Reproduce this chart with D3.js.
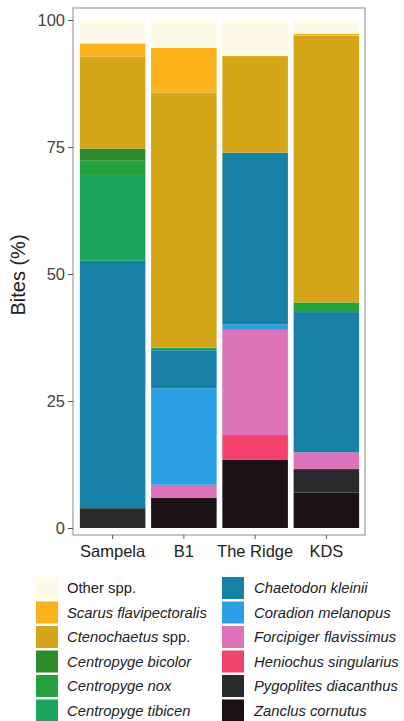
<html>
	<head>
		<meta content="text/html;charset=utf-8" http-equiv="Content-Type">
		<script src="https://d3js.org/d3.v7.min.js"></script>
		<style>
			body { margin: 0; background: white; }
			svg { display: block; font-family: "Liberation Sans", Arial, sans-serif; }
		</style>
	</head>
	<body>
		<svg id="chart"></svg>
		<script>

			// sites along the x axis
			var sites = ["Sampela", "B1", "The Ridge", "KDS"];

			// bites (%) per species, one value per site, stacked bottom to top
			var zanclus     = [0.0, 5.9, 13.4, 7.0];
			var pygoplites  = [3.9, 0.0, 0.0, 4.6];
			var heniochus   = [0.0, 0.0, 4.9, 0.0];
			var forcipiger  = [0.0, 2.6, 20.7, 3.3];
			var coradion    = [0.0, 19.0, 1.1, 0.0];
			var chaetodon   = [48.7, 7.5, 33.8, 27.6];
			var tibicen     = [16.9, 0.5, 0.0, 0.0];
			var nox         = [2.9, 0.0, 0.0, 1.9];
			var bicolor     = [2.3, 0.0, 0.0, 0.0];
			var ctenochaetus= [18.1, 50.2, 19.0, 52.5];
			var scarus      = [2.6, 8.8, 0.0, 0.4];
			var other       = [4.6, 5.5, 7.1, 2.7];

			var yTicks = [0, 25, 50, 75, 100];

			// series in stacking order (bottom first)
			var series = [
				{ name: "Zanclus cornutus", values: zanclus, color: "#1b1117" },
				{ name: "Pygoplites diacanthus", values: pygoplites, color: "#2a2a2d" },
				{ name: "Heniochus singularius", values: heniochus, color: "#f2426c" },
				{ name: "Forcipiger flavissimus", values: forcipiger, color: "#dd72b9" },
				{ name: "Coradion melanopus", values: coradion, color: "#2b9fe6" },
				{ name: "Chaetodon kleinii", values: chaetodon, color: "#1781a8" },
				{ name: "Centropyge tibicen", values: tibicen, color: "#1ca65b" },
				{ name: "Centropyge nox", values: nox, color: "#25a03a" },
				{ name: "Centropyge bicolor", values: bicolor, color: "#2d8b2b" },
				{ name: "Ctenochaetus spp.", values: ctenochaetus, color: "#d5a617" },
				{ name: "Scarus flavipectoralis", values: scarus, color: "#fcb21b" },
				{ name: "Other spp.", values: other, color: "#fdfbe7" }
			];

			// legend columns, top to bottom
			var legendLeft = ["Other spp.", "Scarus flavipectoralis", "Ctenochaetus spp.",
				"Centropyge bicolor", "Centropyge nox", "Centropyge tibicen"];
			var legendRight = ["Chaetodon kleinii", "Coradion melanopus", "Forcipiger flavissimus",
				"Heniochus singularius", "Pygoplites diacanthus", "Zanclus cornutus"];

			var width = 404, height = 721;
			var svg = d3.select("#chart").attr("width", width).attr("height", height);

			var x = d3.scaleBand().domain(sites).range([77, 362]).paddingInner(0.08).paddingOuter(0.04);
			var y = d3.scaleLinear().domain([0, 100]).range([528, 20]);

			// build rows for d3.stack
			var rows = sites.map(function(s, i) {
				var r = { site: s };
				series.forEach(function(d) { r[d.name] = d.values[i]; });
				return r;
			});
			var stacked = d3.stack().keys(series.map(function(d) { return d.name; }))(rows);
			var colorOf = {};
			series.forEach(function(d) { colorOf[d.name] = d.color; });

			// bars
			svg.append("g").selectAll("g")
				.data(stacked)
				.join("g")
				.attr("fill", function(d) { return colorOf[d.key]; })
				.selectAll("rect")
				.data(function(d) { return d; })
				.join("rect")
				.attr("x", function(d) { return x(d.data.site); })
				.attr("y", function(d) { return y(d[1]); })
				.attr("width", x.bandwidth())
				.attr("height", function(d) { return Math.max(0, y(d[0]) - y(d[1])); });

			// panel border
			svg.append("rect")
				.attr("x", 73).attr("y", 8)
				.attr("width", 292).attr("height", 527)
				.attr("fill", "none")
				.style("stroke", "#8a8a8a")
				.style("stroke-width", 1);

			// y axis
			var yAxis = svg.append("g")
				.attr("transform", "translate(73,0)")
				.call(d3.axisLeft(y).tickValues(yTicks).tickSize(5).tickPadding(3));
			yAxis.select(".domain").remove();
			yAxis.selectAll("line").style("stroke", "#555");
			yAxis.selectAll("text").style("font-size", "16.5px").style("fill", "#444")
				.style("font-family", "Liberation Sans, Arial, sans-serif");

			// x axis
			var xAxis = svg.append("g")
				.attr("transform", "translate(0,535)")
				.call(d3.axisBottom(x).tickSize(4).tickPadding(6));
			xAxis.select(".domain").remove();
			xAxis.selectAll("line").style("stroke", "#555");
			xAxis.selectAll("text").style("font-size", "16.5px").style("fill", "#222")
				.style("font-family", "Liberation Sans, Arial, sans-serif");

			// y title
			svg.append("text")
				.attr("transform", "translate(25,275) rotate(-90)")
				.style("text-anchor", "middle")
				.style("font-size", "20px")
				.style("fill", "#222")
				.text("Bites (%)");

			// legend
			function legendColumn(names, sx, tx) {
				names.forEach(function(n, i) {
					var cy = 588 + i * 24.5;
					svg.append("rect")
						.attr("x", sx).attr("y", cy - 11)
						.attr("width", 22).attr("height", 22)
						.attr("fill", colorOf[n]);
					var t = svg.append("text")
						.attr("x", tx).attr("y", cy + 5)
						.style("font-size", "14.8px")
						.style("fill", "#222");
					if (n === "Other spp.") {
						t.text(n);
					} else if (n === "Ctenochaetus spp.") {
						t.append("tspan").style("font-style", "italic").text("Ctenochaetus");
						t.append("tspan").text(" spp.");
					} else {
						t.style("font-style", "italic").text(n);
					}
				});
			}
			legendColumn(legendLeft, 36, 67);
			legendColumn(legendRight, 222, 254);

		</script>
	</body>
</html>
